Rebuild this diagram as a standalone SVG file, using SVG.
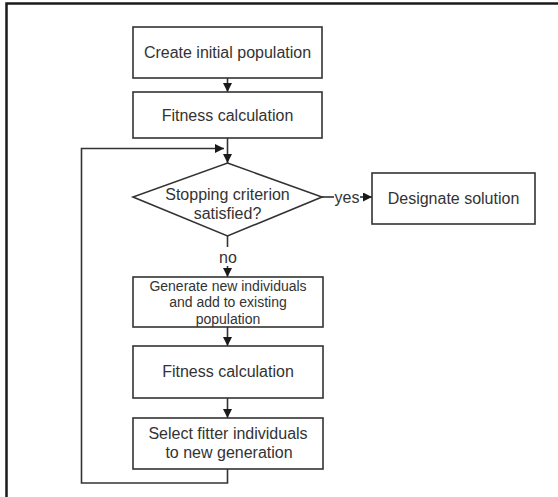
<svg xmlns="http://www.w3.org/2000/svg" width="558" height="497" viewBox="0 0 558 497">
<defs>
<marker id="ah" markerWidth="10" markerHeight="10" refX="9" refY="4.5" orient="auto" markerUnits="userSpaceOnUse">
<path d="M0,0 L9,4.5 L0,9 Z" fill="#1a1a1a"/>
</marker>
<style>
.box{fill:#fff;stroke:#333;stroke-width:1.6}
.t{font-family:"Liberation Sans",Arial,sans-serif;font-size:16px;fill:#333;text-anchor:middle;dominant-baseline:central}
.s{font-size:14px}
.c{fill:none;stroke:#333;stroke-width:1.6}
</style>
</defs>
<rect width="558" height="497" fill="#fff"/>
<path d="M6.5,497 V3.5 H558" fill="none" stroke="#1a1a1a" stroke-width="2.5"/>
<g id="connectors">
<line class="c" x1="227.5" y1="78" x2="227.5" y2="92" marker-end="url(#ah)"/>
<line class="c" x1="227.5" y1="138" x2="227.5" y2="163" marker-end="url(#ah)"/>
<polyline class="c" points="227.5,469 227.5,483 81.5,483 81.5,148.5 224,148.5" marker-end="url(#ah)"/>
<line class="c" x1="322" y1="197" x2="334" y2="197"/>
<text class="t" x="347" y="197">yes</text>
<line class="c" x1="360" y1="197" x2="372" y2="197" marker-end="url(#ah)"/>
<line class="c" x1="227.5" y1="236" x2="227.5" y2="247"/>
<text class="t" x="228" y="257">no</text>
<line class="c" x1="227.5" y1="266" x2="227.5" y2="277" marker-end="url(#ah)"/>
<line class="c" x1="227.5" y1="327" x2="227.5" y2="346" marker-end="url(#ah)"/>
<line class="c" x1="227.5" y1="398" x2="227.5" y2="418" marker-end="url(#ah)"/>
</g>
<g id="create">
<rect class="box" x="133" y="27" width="189" height="51"/>
<text class="t" x="227.5" y="52.5">Create initial population</text>
</g>
<g id="fitness1">
<rect class="box" x="133" y="92" width="189" height="46"/>
<text class="t" x="227.5" y="115">Fitness calculation</text>
</g>
<g id="stop">
<polygon class="box" points="227.5,163 322,197 227.5,236 133,197"/>
<text class="t" x="227.5" y="194">Stopping criterion</text>
<text class="t" x="227.5" y="213">satisfied?</text>
</g>
<g id="designate">
<rect class="box" x="372" y="173" width="163" height="51"/>
<text class="t" x="453.5" y="198">Designate solution</text>
</g>
<g id="generate">
<rect class="box" x="133" y="277" width="190" height="50"/>
<text class="t s" x="228" y="285.5">Generate new individuals</text>
<text class="t s" x="228" y="302">and add to existing</text>
<text class="t s" x="228" y="318.5">population</text>
</g>
<g id="fitness2">
<rect class="box" x="133" y="346" width="190" height="52"/>
<text class="t" x="228" y="371">Fitness calculation</text>
</g>
<g id="select">
<rect class="box" x="133" y="418" width="190" height="51"/>
<text class="t" x="228" y="433">Select fitter individuals</text>
<text class="t" x="229" y="452">to new generation</text>
</g>
</svg>
